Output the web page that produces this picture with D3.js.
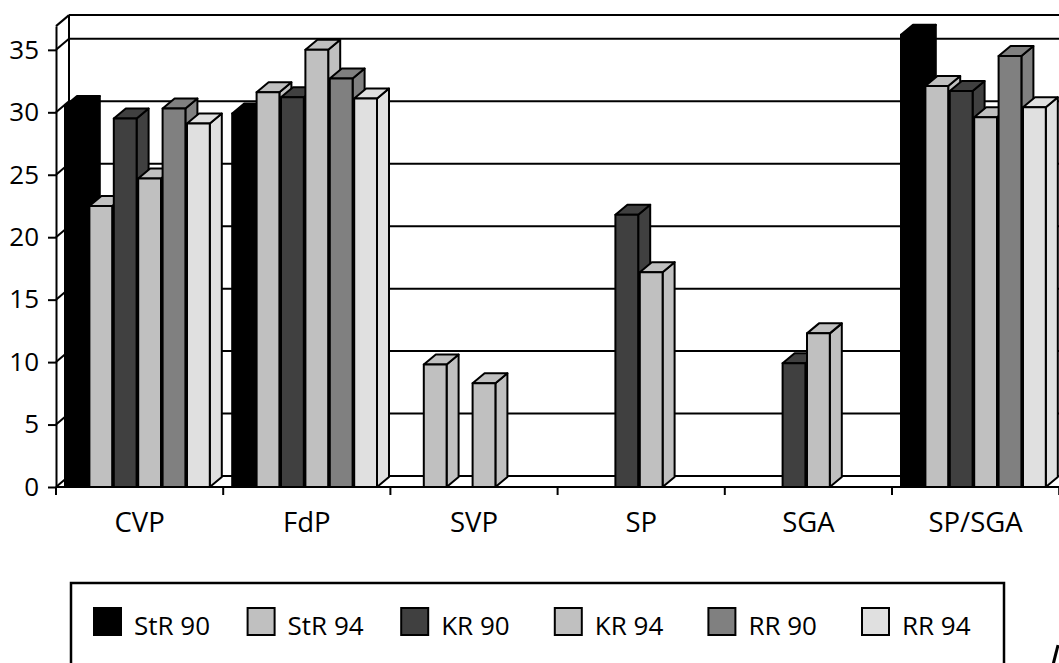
<!DOCTYPE html>
<html>
<head>
<meta charset="utf-8">
<script src="https://cdn.jsdelivr.net/npm/d3@7"></script>
<style>
  html, body { margin: 0; padding: 0; background: #fff; }
  svg { display: block; }
  text { font-family: "Open Sans", sans-serif; fill: #000; }
</style>
</head>
<body>
<svg id="chart" width="1059" height="663"></svg>
<script>
// ---- data ----
const categories = ["CVP", "FdP", "SVP", "SP", "SGA", "SP/SGA"];
const seriesNames = ["StR 90", "StR 94", "KR 90", "KR 94", "RR 90", "RR 94"];
const seriesColors = ["#000000", "#c0c0c0", "#404040", "#c0c0c0", "#808080", "#e0e0e0"];
const str90 = [30.5, 29.9, null, null, null, 36.2];
const str94 = [22.5, 31.6, 9.8, null, null, 32.1];
const kr90  = [29.5, 31.2, null, 21.8, 9.9, 31.7];
const kr94  = [24.7, 35.0, 8.3, 17.2, 12.3, 29.6];
const rr90  = [30.3, 32.7, null, null, null, 34.5];
const rr94  = [29.1, 31.1, null, null, null, 30.4];
const yTicks = [0, 5, 10, 15, 20, 25, 30, 35];
const yMax = 36.9;

const seriesValues = [str90, str94, kr90, kr94, rr90, rr94];

// ---- layout ----
const svg = d3.select("#chart");
const W = 1059;
const x0 = 56, baseY = 487;
const wallDx = 13, wallDy = -11;
const barDx = 12, barDy = -10;

const x = d3.scaleBand().domain(categories).range([x0, x0 + 6 * 167.2]).padding(0);
const xs = d3.scaleBand().domain(seriesNames).range([9, 9 + 146.4]).padding(0);
const y = d3.scaleLinear().domain([0, yMax]).range([baseY, baseY - yMax * 12.49]);

const line = (g, x1, y1, x2, y2) => g.append("line")
  .attr("x1", x1).attr("y1", y1).attr("x2", x2).attr("y2", y2)
  .attr("stroke", "#000").attr("stroke-width", 2);

// ---- walls & gridlines ----
const walls = svg.append("g");
const backX = x0 + wallDx;
line(walls, x0, y(yMax), backX, y(yMax) + wallDy);
line(walls, backX, y(yMax) + wallDy, W + 2, y(yMax) + wallDy);
line(walls, backX, y(yMax) + wallDy, backX, y(0) + wallDy);
yTicks.forEach(v => {
  line(walls, backX, y(v) + wallDy, W + 2, y(v) + wallDy);
  line(walls, x0, y(v), backX, y(v) + wallDy);
});

// ---- bars ----
const bars = svg.append("g").attr("stroke", "#000").attr("stroke-width", 2).attr("stroke-linejoin", "round");
const barW = xs.bandwidth() - 1.6;
categories.forEach((c, ci) => {
  seriesNames.forEach((s, si) => {
    const v = seriesValues[si][ci];
    if (v == null) return;
    const bx = x(c) + xs(s);
    const top = y(v), bot = y(0);
    const col = seriesColors[si];
    const g = bars.append("g").attr("fill", col);
    g.append("polygon").attr("points", [
      [bx + barW, top], [bx + barW + barDx, top + barDy],
      [bx + barW + barDx, bot + barDy], [bx + barW, bot]].map(p => p.join(",")).join(" "));
    g.append("polygon").attr("points", [
      [bx, top], [bx + barDx, top + barDy],
      [bx + barW + barDx, top + barDy], [bx + barW, top]].map(p => p.join(",")).join(" "));
    g.append("rect").attr("x", bx).attr("y", top).attr("width", barW).attr("height", bot - top);
  });
});

// ---- axes ----
const yAxis = d3.axisLeft(y).tickValues(yTicks).tickSize(8).tickPadding(9).tickSizeOuter(0);
const ya = svg.append("g").attr("transform", `translate(${x0},0)`).call(yAxis);
ya.select(".domain").attr("stroke-width", 2);
ya.selectAll(".tick line").attr("stroke-width", 2);
ya.selectAll(".tick text").attr("font-size", 26).attr("font-family", "Open Sans, sans-serif").attr("fill", "#000");

const xa = svg.append("g");
line(xa, x0, baseY, W + 2, baseY);
const bounds = categories.map(c => x(c)).concat([x(categories[categories.length - 1]) + x.bandwidth()]);
bounds.forEach(bx => line(xa, bx, baseY, bx, baseY + 8));
xa.selectAll("text.cat").data(categories).join("text")
  .attr("class", "cat")
  .attr("x", d => x(d) + x.bandwidth() / 2)
  .attr("y", 532)
  .attr("text-anchor", "middle")
  .attr("font-size", 27.5)
  .text(d => d);

// ---- legend ----
const lg = svg.append("g");
lg.append("rect").attr("x", 71).attr("y", 583).attr("width", 933).attr("height", 120)
  .attr("fill", "none").attr("stroke", "#000").attr("stroke-width", 2.5);
const lx = d3.scalePoint().domain(seriesNames).range([94, 94 + 5 * 153.6]);
seriesNames.forEach((s, i) => {
  lg.append("rect").attr("x", lx(s)).attr("y", 608).attr("width", 27).attr("height", 27)
    .attr("fill", seriesColors[i]).attr("stroke", "#000").attr("stroke-width", 2);
  lg.append("text").attr("x", lx(s) + 40).attr("y", 635).attr("font-size", 26).text(s);
});

// fragment at bottom-right corner
svg.append("line").attr("x1", 1058).attr("y1", 645).attr("x2", 1053).attr("y2", 665)
  .attr("stroke", "#000").attr("stroke-width", 3);
</script>
</body>
</html>
